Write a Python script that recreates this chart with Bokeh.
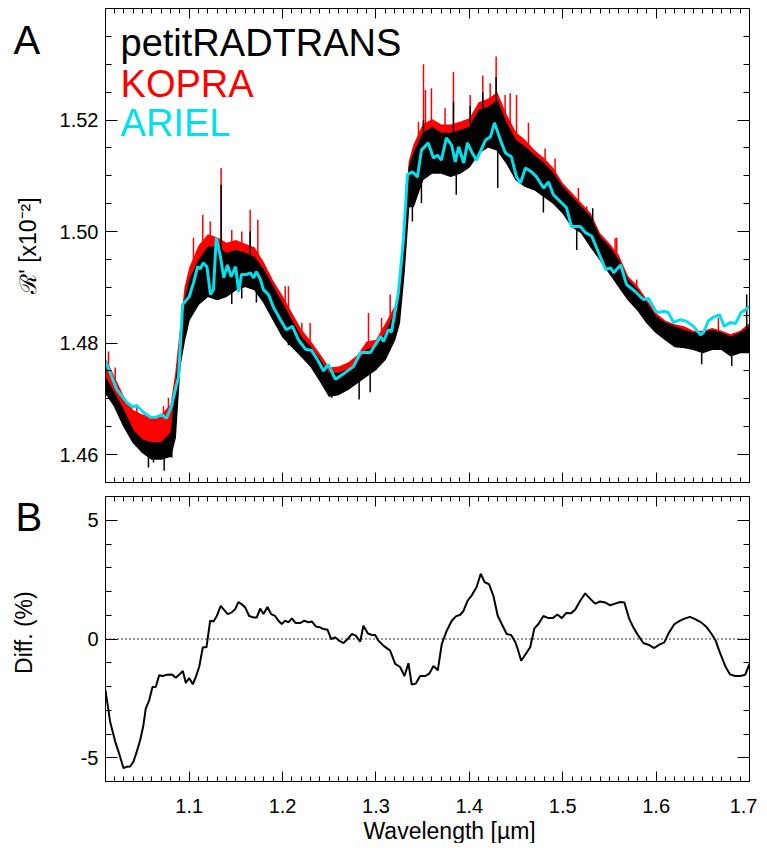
import numpy as np
from bokeh.plotting import figure
from bokeh.layouts import column
from bokeh.models import (FixedTicker, LinearAxis, Span, Label, Title, Range1d,
                          CustomJSTickFormatter, PrintfTickFormatter)
from bokeh.embed import file_html
from bokeh.resources import INLINE

# ---------------- data ----------------
series_names = ["petitRADTRANS", "KOPRA", "ARIEL"]
series_colors = ["black", "#FF0000", "#00E0EE"]

# dense high-resolution spectra, drawn as envelope bands (x10^-2)
band_x = [1.01, 1.02, 1.03, 1.04, 1.05, 1.06, 1.07, 1.08, 1.085, 1.09, 1.095, 1.10,
          1.11, 1.12, 1.13, 1.14, 1.15, 1.16, 1.17, 1.18, 1.19, 1.20, 1.21, 1.22,
          1.23, 1.24, 1.25, 1.26, 1.27, 1.28, 1.29, 1.30, 1.31, 1.32, 1.325, 1.33,
          1.335, 1.34, 1.35, 1.36, 1.37, 1.38, 1.39, 1.40, 1.41, 1.42, 1.43, 1.44,
          1.45, 1.46, 1.47, 1.48, 1.49, 1.50, 1.51, 1.52, 1.53, 1.54, 1.55, 1.56,
          1.57, 1.58, 1.59, 1.60, 1.61, 1.62, 1.63, 1.64, 1.65, 1.66, 1.67, 1.68,
          1.69, 1.70]
kopra_hi = [1.4775, 1.4740, 1.4705, 1.4680, 1.4672, 1.4668, 1.4672, 1.4690, 1.4745, 1.4825, 1.4900, 1.4935,
            1.4975, 1.4995, 1.4990, 1.4980, 1.4985, 1.4978, 1.4972, 1.4945, 1.4912, 1.4885, 1.4855, 1.4825,
            1.4804, 1.4781, 1.4756, 1.4758, 1.4765, 1.4778, 1.4803, 1.4806, 1.4835, 1.4866, 1.4902, 1.4997,
            1.5125, 1.5155, 1.5192, 1.5202, 1.5192, 1.5192, 1.5197, 1.5203, 1.5232, 1.5238, 1.5250, 1.5210,
            1.5178, 1.5164, 1.5146, 1.5132, 1.5114, 1.5087, 1.5069, 1.5051, 1.5033, 1.4997, 1.4979, 1.4958,
            1.4920, 1.4903, 1.4878, 1.4854, 1.4840, 1.4834, 1.4830, 1.4822, 1.4822, 1.4827, 1.4822, 1.4816,
            1.4822, 1.4836]
prt_hi = [1.4741, 1.4712, 1.4681, 1.4645, 1.4627, 1.4622, 1.4622, 1.4640, 1.4720, 1.4806, 1.4878, 1.4914,
          1.4950, 1.4973, 1.4973, 1.4962, 1.4967, 1.4962, 1.4955, 1.4932, 1.4902, 1.4873, 1.4842, 1.4812,
          1.4794, 1.4771, 1.4747, 1.4747, 1.4753, 1.4765, 1.4789, 1.4794, 1.4819, 1.4855, 1.4890, 1.4985,
          1.5116, 1.5141, 1.5177, 1.5188, 1.5177, 1.5177, 1.5182, 1.5188, 1.5218, 1.5224, 1.5236, 1.5195,
          1.5164, 1.5152, 1.5137, 1.5123, 1.5105, 1.5081, 1.5063, 1.5045, 1.5027, 1.4991, 1.4973, 1.4950,
          1.4914, 1.4896, 1.4873, 1.4848, 1.4837, 1.4830, 1.4824, 1.4819, 1.4819, 1.4824, 1.4819, 1.4812,
          1.4819, 1.4830]
prt_lo = [1.4712, 1.4687, 1.4651, 1.4622, 1.4604, 1.4592, 1.4592, 1.4597, 1.4630, 1.4759, 1.4806, 1.4842,
          1.4870, 1.4884, 1.4878, 1.4884, 1.4896, 1.4902, 1.4896, 1.4873, 1.4842, 1.4812, 1.4794, 1.4777,
          1.4759, 1.4733, 1.4705, 1.4708, 1.4717, 1.4729, 1.4741, 1.4753, 1.4771, 1.4806, 1.4836, 1.4926,
          1.5045, 1.5045, 1.5093, 1.5105, 1.5105, 1.5099, 1.5105, 1.5116, 1.5141, 1.5152, 1.5146, 1.5123,
          1.5093, 1.5081, 1.5075, 1.5063, 1.5051, 1.5034, 1.5009, 1.4998, 1.4973, 1.4950, 1.4926, 1.4902,
          1.4878, 1.4860, 1.4837, 1.4819, 1.4806, 1.4794, 1.4792, 1.4789, 1.4783, 1.4789, 1.4789, 1.4777,
          1.4783, 1.4783]

# individual noise spikes
kopra_spike_x = [1.0136, 1.0208, 1.0439, 1.0725, 1.0778, 1.1046, 1.1146, 1.1225, 1.1342, 1.1456,
                 1.1563, 1.1653, 1.1735, 1.2028, 1.2063, 1.2206, 1.2295, 1.292, 1.306, 1.3152,
                 1.3455, 1.3509, 1.353, 1.3594, 1.374, 1.383, 1.4009, 1.4144, 1.4223, 1.4287,
                 1.4383, 1.4437, 1.4505, 1.4633, 1.4811, 1.4918, 1.5168, 1.5257, 1.5561, 1.5578,
                 1.5792, 1.6257, 1.6667, 1.6828]
kopra_spike_y = [1.4785, 1.4756, 1.4690, 1.4687, 1.4702, 1.4989, 1.5030, 1.5018, 1.5114, 1.5003,
                 1.5000, 1.5039, 1.5021, 1.4902, 1.4902, 1.4836, 1.4836, 1.4854, 1.4845, 1.4887,
                 1.5197, 1.5300, 1.5254, 1.5257, 1.5221, 1.5286, 1.5245, 1.5280, 1.5266, 1.5314,
                 1.5245, 1.5248, 1.5245, 1.5195, 1.5149, 1.5131, 1.5078, 1.5045, 1.4988, 1.4989,
                 1.4914, 1.4830, 1.4845, 1.4818]
prt_up_x = [1.1342, 1.1653, 1.3509, 1.383, 1.4009, 1.4144, 1.4287, 1.5321, 1.697]
prt_up_y = [1.5084, 1.5000, 1.5200, 1.5233, 1.5225, 1.5250, 1.5277, 1.5042, 1.4887]
prt_down_x = [1.0564, 1.0618, 1.0732, 1.0814, 1.0974, 1.1046, 1.1456, 1.1563, 1.172, 1.1945,
              1.2063, 1.2366, 1.2527, 1.282, 1.2938, 1.339, 1.3487, 1.386, 1.4304, 1.4793,
              1.515, 1.6488, 1.681]
prt_down_y = [1.4577, 1.4586, 1.4571, 1.4595, 1.4836, 1.4862, 1.4870, 1.4880, 1.4873, 1.4833,
              1.4796, 1.4748, 1.4702, 1.4699, 1.4712, 1.5018, 1.5051, 1.5066, 1.5078, 1.5034,
              1.4967, 1.4762, 1.4759]

# binned ARIEL spectrum
ariel_x = [1.0104, 1.0225, 1.033, 1.040, 1.0436, 1.051, 1.0585, 1.065, 1.0703, 1.0757,
           1.081, 1.0886, 1.093, 1.100, 1.1046, 1.109, 1.112, 1.115, 1.119, 1.1228,
           1.126, 1.129, 1.1335, 1.137, 1.141, 1.145, 1.1497, 1.153, 1.156, 1.1613,
           1.1656, 1.169, 1.172, 1.1763, 1.1795, 1.185, 1.190, 1.1977, 1.204, 1.2106,
           1.217, 1.2245, 1.231, 1.2385, 1.2438, 1.249, 1.2566, 1.267, 1.276, 1.2834,
           1.294, 1.305, 1.308, 1.3134, 1.3166, 1.324, 1.3294, 1.3337, 1.339, 1.3444,
           1.3487, 1.356, 1.3616, 1.3658, 1.370, 1.3755, 1.381, 1.385, 1.3885, 1.394,
           1.398, 1.4025, 1.4076, 1.4173, 1.4226, 1.4269, 1.4333, 1.4387, 1.445, 1.4505,
           1.4548, 1.460, 1.4666, 1.472, 1.4795, 1.4848, 1.490, 1.504, 1.5094, 1.519,
           1.5244, 1.531, 1.5384, 1.546, 1.5513, 1.5545, 1.562, 1.5684, 1.578, 1.5833,
           1.5866, 1.592, 1.5995, 1.603, 1.608, 1.613, 1.6186, 1.626, 1.6324, 1.640,
           1.6475, 1.6507, 1.656, 1.661, 1.6678, 1.673, 1.6795, 1.685, 1.691, 1.700]
ariel_y = [1.4768, 1.4717, 1.4694, 1.4685, 1.4688, 1.4676, 1.4667, 1.4667, 1.4672, 1.4665,
           1.4687, 1.4740, 1.4869, 1.4883, 1.4908, 1.4937, 1.4933, 1.4944, 1.4937, 1.4887,
           1.4896, 1.4989, 1.4955, 1.4917, 1.4940, 1.4919, 1.4937, 1.4892, 1.4923, 1.4923,
           1.4926, 1.4917, 1.4928, 1.4914, 1.4896, 1.4887, 1.4865, 1.4842, 1.4824, 1.4830,
           1.4806, 1.4789, 1.4787, 1.4767, 1.4750, 1.4762, 1.4735, 1.4747, 1.4758, 1.4783,
           1.4783, 1.4812, 1.4803, 1.4824, 1.4820, 1.4890, 1.4985, 1.5102, 1.5107, 1.5098,
           1.5146, 1.5159, 1.5132, 1.5137, 1.5128, 1.5168, 1.5155, 1.5125, 1.5152, 1.5123,
           1.5159, 1.5143, 1.5128, 1.5164, 1.5170, 1.5195, 1.5164, 1.5141, 1.5134, 1.5098,
           1.5087, 1.5114, 1.5107, 1.5098, 1.5078, 1.5089, 1.5066, 1.5043, 1.5009, 1.5009,
           1.4998, 1.4992, 1.4962, 1.4932, 1.4935, 1.4926, 1.4940, 1.4905, 1.4892, 1.4883,
           1.4878, 1.4880, 1.4857, 1.4855, 1.4857, 1.4855, 1.4837, 1.4842, 1.4839, 1.4830,
           1.4815, 1.4819, 1.4840, 1.4846, 1.4851, 1.4830, 1.4837, 1.4835, 1.4855, 1.4865]

# difference (%)
diff_x = [1.0104, 1.0154, 1.0208, 1.0243, 1.0297, 1.0332, 1.0368, 1.0404, 1.0439, 1.0475,
          1.051, 1.0535, 1.0572, 1.0607, 1.0642, 1.0679, 1.0714, 1.076, 1.0814, 1.0857,
          1.0886, 1.0932, 1.0964, 1.100, 1.1039, 1.1071, 1.1107, 1.1146, 1.1185, 1.1225,
          1.126, 1.1296, 1.1338, 1.1367, 1.1413, 1.1456, 1.1493, 1.1528, 1.1563, 1.160,
          1.1642, 1.1688, 1.1724, 1.176, 1.1795, 1.1838, 1.1877, 1.192, 1.1956, 1.1991,
          1.2028, 1.2063, 1.2099, 1.2141, 1.2188, 1.2234, 1.2277, 1.2313, 1.2356, 1.2403,
          1.2438, 1.2481, 1.252, 1.2563, 1.2606, 1.2652, 1.2698, 1.2741, 1.2784, 1.2831,
          1.2866, 1.2912, 1.2955, 1.2991, 1.3027, 1.308, 1.3152, 1.3206, 1.3259, 1.3305,
          1.3348, 1.3383, 1.3426, 1.3473, 1.3527, 1.357, 1.3616, 1.3662, 1.3705, 1.3758,
          1.3812, 1.3855, 1.3902, 1.3937, 1.3983, 1.4026, 1.4079, 1.4122, 1.4162, 1.4212,
          1.4258, 1.4304, 1.4347, 1.440, 1.4447, 1.449, 1.4518, 1.4555, 1.4604, 1.4651,
          1.4697, 1.474, 1.4793, 1.4847, 1.4893, 1.4943, 1.499, 1.5036, 1.5086, 1.5133,
          1.5186, 1.524, 1.5293, 1.5347, 1.540, 1.5454, 1.5508, 1.5561, 1.5615, 1.566,
          1.571, 1.5756, 1.581, 1.5863, 1.5917, 1.598, 1.6034, 1.6088, 1.6139, 1.6196,
          1.6257, 1.631, 1.6364, 1.6417, 1.6482, 1.6542, 1.6595, 1.6638, 1.6675, 1.671,
          1.6745, 1.6792, 1.6846, 1.6899, 1.6953, 1.700]
diff_y = [-2.16, -3.49, -4.32, -4.74, -5.44, -5.38, -5.37, -5.16, -4.74, -4.26,
          -3.63, -2.93, -2.58, -2.02, -2.02, -1.53, -1.56, -1.51, -1.49, -1.63,
          -1.53, -1.35, -1.85, -1.64, -1.91, -1.60, -1.18, -0.35, -0.35, 0.77,
          0.74, 0.97, 1.39, 1.26, 1.05, 1.12, 1.26, 1.56, 1.46, 1.33,
          0.97, 0.91, 0.91, 1.28, 1.05, 1.35, 1.05, 0.97, 0.77, 0.63,
          0.77, 0.70, 0.87, 0.67, 0.67, 0.77, 0.70, 0.74, 0.53, 0.49,
          0.42, 0.39, 0.00, 0.07, -0.07, -0.17, 0.00, 0.21, 0.14, -0.11,
          0.56, 0.24, 0.17, 0.17, -0.07, -0.28, -0.49, -1.05, -1.18, -1.56,
          -1.02, -1.92, -1.88, -1.56, -1.56, -1.46, -1.14, -1.32, -0.21, 0.35,
          0.77, 0.95, 1.02, 1.18, 1.63, 1.84, 2.20, 2.75, 2.40, 2.30,
          1.81, 0.98, 0.63, 0.21, 0.17, -0.11, -0.42, -0.91, -0.63, -0.35,
          0.45, 0.63, 0.97, 0.88, 0.88, 1.03, 0.88, 1.09, 1.08, 1.23,
          1.60, 1.92, 1.70, 1.49, 1.58, 1.54, 1.42, 1.49, 1.56, 1.54,
          0.87, 0.49, 0.14, -0.17, -0.24, -0.38, -0.24, -0.14, 0.28, 0.63,
          0.77, 0.87, 0.93, 0.84, 0.70, 0.49, 0.21, -0.07, -0.49, -0.84,
          -1.18, -1.49, -1.56, -1.56, -1.51, -1.05]

x_major = [1.1, 1.2, 1.3, 1.4, 1.5, 1.6, 1.7]
x_minor = [round(1.01 + 0.01 * i, 3) for i in range(70)]
y1_major = [1.46, 1.48, 1.50, 1.52]
y1_minor = [round(1.455 + 0.005 * i, 3) for i in range(18)]
y2_major = [-5, 0, 5]
y2_minor = list(range(-6, 7))

FONT = "Liberation Sans"
x_range = Range1d(1.0104, 1.70)


def empty_fmt():
    return CustomJSTickFormatter(code="return '';")


def style_axes(p, yt, ymin, show_x_labels, yfmt):
    bottom = p.xaxis[0]
    left = p.yaxis[0]
    xt = FixedTicker(ticks=x_major, minor_ticks=x_minor)
    ytk = FixedTicker(ticks=yt, minor_ticks=ymin)
    bottom.ticker = xt
    left.ticker = ytk
    left.formatter = yfmt
    top = LinearAxis(ticker=xt, formatter=empty_fmt(), major_label_standoff=0)
    right = LinearAxis(ticker=ytk, formatter=empty_fmt(), major_label_standoff=0)
    p.add_layout(top, "above")
    p.add_layout(right, "right")
    for ax in [bottom, top]:
        ax.major_tick_in = 10
        ax.major_tick_out = 0
        ax.minor_tick_in = 5
        ax.minor_tick_out = 0
    for ax in [left, right]:
        ax.major_tick_in = 12
        ax.major_tick_out = 0
        ax.minor_tick_in = 6
        ax.minor_tick_out = 0
    for ax in [bottom, top, left, right]:
        ax.axis_line_color = "black"
        ax.major_tick_line_color = "black"
        ax.minor_tick_line_color = "black"
        ax.major_label_text_color = "black"
        ax.major_label_text_font = FONT
        ax.major_label_text_font_size = "20px"
    if not show_x_labels:
        bottom.formatter = empty_fmt()
        bottom.major_label_standoff = 0
    else:
        bottom.major_label_standoff = 17
    left.major_label_standoff = 7
    p.outline_line_color = "black"
    p.grid.visible = False
    p.background_fill_color = "white"
    p.border_fill_color = "white"
    return bottom, left


def side_label(p, x, y, text, size, angle=0.0, align="left", baseline="alphabetic"):
    # placed in the left side panel so that it is not clipped to the frame
    p.add_layout(Label(x=x, y=y, text=text, text_color="black", text_font=FONT,
                       text_font_size=size, angle=angle, text_align=align,
                       text_baseline=baseline), "left")


# ---------------- panel A ----------------
p1 = figure(frame_width=644, frame_height=474, x_range=x_range,
            y_range=Range1d(1.455, 1.54), output_backend="svg",
            toolbar_location=None, min_border_left=105, min_border_right=8,
            min_border_top=8, min_border_bottom=7)
b1, l1 = style_axes(p1, y1_major, y1_minor, False, PrintfTickFormatter(format="%.2f"))

bx = np.array(band_x)
p1.varea(x=band_x, y1=prt_lo, y2=kopra_hi, fill_color=series_colors[1])
p1.segment(x0=kopra_spike_x, y0=np.interp(kopra_spike_x, bx, prt_hi),
           x1=kopra_spike_x, y1=kopra_spike_y, line_color=series_colors[1], line_width=1.5)
p1.varea(x=band_x, y1=prt_lo, y2=prt_hi, fill_color=series_colors[0])
p1.line(x=band_x, y=prt_lo, line_color=series_colors[0], line_width=1.5)
p1.segment(x0=prt_up_x, y0=np.interp(prt_up_x, bx, prt_hi),
           x1=prt_up_x, y1=prt_up_y, line_color=series_colors[0], line_width=1.5)
p1.segment(x0=prt_down_x, y0=np.interp(prt_down_x, bx, prt_lo) + 0.0005,
           x1=prt_down_x, y1=prt_down_y, line_color=series_colors[0], line_width=1.5)
p1.line(x=ariel_x, y=ariel_y, line_color=series_colors[2], line_width=3)

label_y = [1.5338, 1.5264, 1.5195]
for name, col, yy in zip(series_names, series_colors, label_y):
    p1.add_layout(Label(x=1.0265, y=yy, text=name, text_color=col,
                        text_font=FONT, text_font_size="38px",
                        text_baseline="alphabetic"))
side_label(p1, 0.9119, 1.5343, "A", "40px")
side_label(p1, 0.9269, 1.4975, "ℛ' [x10⁻²]", "23px", angle=np.pi / 2,
           align="center", baseline="middle")

# ---------------- panel B ----------------
p2 = figure(frame_width=644, frame_height=285, x_range=x_range,
            y_range=Range1d(-6, 6), output_backend="svg",
            toolbar_location=None, min_border_left=105, min_border_right=8,
            min_border_top=7, min_border_bottom=56)
b2, l2 = style_axes(p2, y2_major, y2_minor, True,
                    CustomJSTickFormatter(code="return tick.toString();"))
p2.add_layout(Span(location=0, dimension="width", line_color="black",
                   line_dash="1 3", line_width=1.5))
p2.line(x=diff_x, y=diff_y, line_color="black", line_width=2)
side_label(p2, 0.9140, 5.13, "B", "40px")
side_label(p2, 0.9226, 0.27, "Diff. (%)", "23px", angle=np.pi / 2,
           align="center", baseline="middle")
p2.add_layout(Title(text="Wavelength [µm]", align="left", offset=258,
                    text_font=FONT, text_font_size="23px", text_font_style="normal",
                    text_color="black", standoff=0), "below")

layout = column(p1, p2, spacing=0)
open("out.html", "w").write(file_html(layout, INLINE))
